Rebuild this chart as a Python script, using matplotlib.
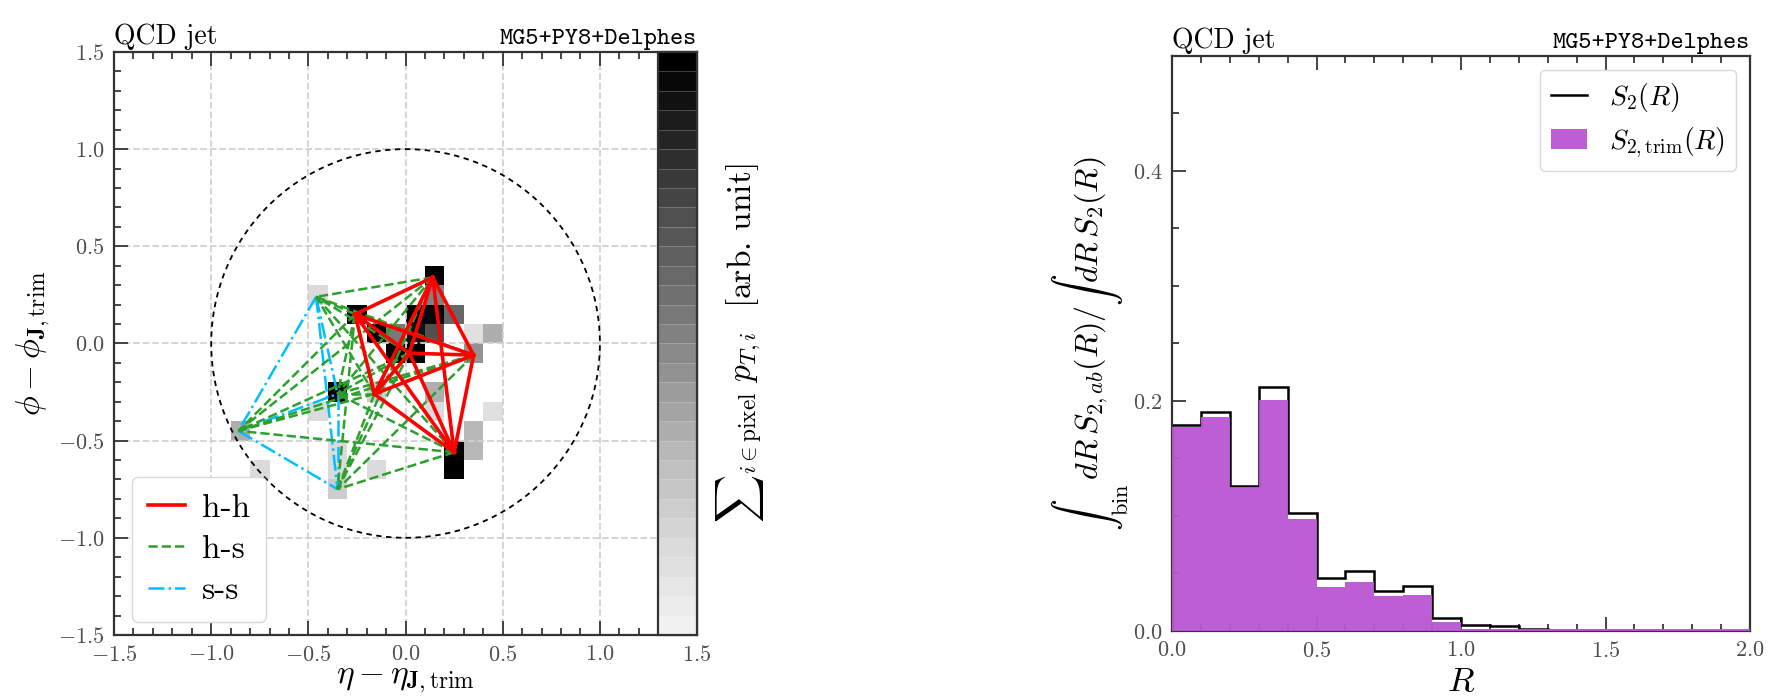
import numpy as np
import matplotlib
matplotlib.use("Agg")
import matplotlib.pyplot as plt
from matplotlib.colors import ListedColormap
from matplotlib.patches import Circle
from matplotlib.ticker import MultipleLocator

plt.rcParams['font.family'] = 'serif'
plt.rcParams['font.serif'] = ['cmr10']
plt.rcParams['font.monospace'] = ['cmtt10']
plt.rcParams['mathtext.fontset'] = 'cm'
plt.rcParams['axes.formatter.use_mathtext'] = True
plt.rcParams['axes.unicode_minus'] = True

# jet image pixels (eta, phi centres and intensity, arb. unit)
pix_eta = [0.15, 0.15, 0.05, 0.15, 0.25, 0.05, 0.15, 0.35, 0.45, 0.35,
           -0.05, 0.05, -0.15, -0.05, -0.25, -0.45, -0.35, -0.45, -0.85, -0.75,
           -0.35, -0.35, -0.35, -0.15, -0.15, 0.15, 0.15, 0.45, 0.35, 0.35,
           0.25, 0.25]
pix_phi = [0.35, 0.25, 0.15, 0.15, 0.15, 0.05, 0.05, 0.05, 0.05, -0.05,
           -0.05, -0.05, 0.05, 0.05, 0.15, 0.25, -0.25, -0.35, -0.45, -0.65,
           -0.55, -0.65, -0.75, -0.65, -0.25, -0.25, -0.35, -0.35, -0.45, -0.55,
           -0.55, -0.65]
pix_val = [1.0, 0.5, 1.0, 0.95, 0.6, 0.9, 0.7, 0.12, 0.35, 0.45,
           1.0, 1.0, 1.0, 0.55, 1.0, 0.15, 1.0, 0.15, 0.35, 0.15,
           0.15, 0.15, 0.2, 0.15, 0.2, 0.35, 0.15, 0.12, 0.3, 0.3,
           1.0, 1.0]

# hard and soft constituents after trimming
hard_eta = [0.14, -0.26, 0.35, 0.25, -0.16, 0.02]
hard_phi = [0.34, 0.15, -0.06, -0.56, -0.26, -0.05]
soft_eta = [-0.46, -0.86, -0.35, -0.35]
soft_phi = [0.24, -0.45, -0.75, -0.26]
JET_R = 1.0

# S2(R) histograms
r_edges = np.linspace(0.0, 2.0, 21)
s2 = [0.179, 0.190, 0.126, 0.212, 0.103, 0.046, 0.052, 0.035, 0.039, 0.011,
      0.005, 0.004, 0.002, 0.001, 0.001, 0.0005, 0.0005, 0.0003, 0.0003, 0.0002]
s2_trim = [0.177, 0.186, 0.125, 0.201, 0.097, 0.038, 0.043, 0.030, 0.031, 0.008,
           0.002, 0.002, 0.0015, 0.0015, 0.0015, 0.0015, 0.0015, 0.0015, 0.0015, 0.0015]

fig = plt.figure(figsize=(17.76, 7.0), dpi=100)
ax1 = fig.add_axes([0.0642, 0.0929, 0.3283, 0.8329])
ax2 = fig.add_axes([0.6599, 0.0986, 0.3255, 0.8214])


def style_axis(ax, right=True):
    ax.tick_params(which='both', direction='in', top=True, right=right,
                   labelsize=16, labelcolor='0.3', color='0.15', width=1.2)
    ax.tick_params(which='major', length=10)
    ax.tick_params(which='minor', length=5)
    ax.tick_params(axis='x', which='both', pad=7)
    ax.tick_params(axis='y', which='both', pad=7)
    for sp in ax.spines.values():
        sp.set_linewidth(1.6)
        sp.set_color('0.2')


# ---- left panel: jet image ----
cmap = ListedColormap(plt.cm.Greys(np.linspace(0.12, 1.0, 30)))
edges = np.linspace(-1.5, 1.5, 31)
h = ax1.hist2d(pix_eta, pix_phi, bins=[edges, edges], weights=pix_val,
               cmin=1e-6, cmap=cmap, vmin=0, vmax=1, zorder=0)

for i in range(len(soft_eta)):
    for j in range(i + 1, len(soft_eta)):
        ax1.plot([soft_eta[i], soft_eta[j]], [soft_phi[i], soft_phi[j]],
                 color='deepskyblue', ls='-.', lw=1.8, zorder=3,
                 label='s-s' if (i, j) == (0, 1) else None)
for i in range(len(hard_eta)):
    for j in range(len(soft_eta)):
        ax1.plot([hard_eta[i], soft_eta[j]], [hard_phi[i], soft_phi[j]],
                 color='tab:green', ls='--', lw=1.8, zorder=4,
                 label='h-s' if (i, j) == (0, 0) else None)
for i in range(len(hard_eta)):
    for j in range(i + 1, len(hard_eta)):
        ax1.plot([hard_eta[i], hard_eta[j]], [hard_phi[i], hard_phi[j]],
                 color='red', ls='-', lw=2.6, zorder=5,
                 label='h-h' if (i, j) == (0, 1) else None)

ax1.add_patch(Circle((0, 0), JET_R, fill=False, color='k', lw=1.3,
                     ls=(0, (3, 2.5)), zorder=2))

ax1.set_xlim(-1.5, 1.5)
ax1.set_ylim(-1.5, 1.5)
ax1.xaxis.set_major_locator(MultipleLocator(0.5))
ax1.xaxis.set_minor_locator(MultipleLocator(0.1))
ax1.yaxis.set_major_locator(MultipleLocator(0.5))
ax1.yaxis.set_minor_locator(MultipleLocator(0.1))
ax1.grid(True, which='major', ls='--', color='0.82', lw=1.3)
style_axis(ax1)
ax1.set_xlabel(r'$\eta - \eta_{\mathbf{J},\mathrm{trim}}$', fontsize=24, labelpad=1)
ax1.set_ylabel(r'$\phi - \phi_{\mathbf{J},\mathrm{trim}}$', fontsize=24, labelpad=4)
ax1.set_title('QCD jet', loc='left', fontsize=20)
ax1.set_title('MG5+PY8+Delphes', loc='right', fontsize=18, family='monospace')

hh, ll = ax1.get_legend_handles_labels()
order = [ll.index(k) for k in ['h-h', 'h-s', 's-s']]
ax1.legend([hh[k] for k in order], [ll[k] for k in order], loc='lower left',
           bbox_to_anchor=(0.03, 0.022), borderaxespad=0,
           fontsize=24, handlelength=1.1, handletextpad=0.5, labelspacing=0.36,
           borderpad=0.5, fancybox=True, framealpha=1, edgecolor='0.85')

cax = ax1.inset_axes([0.9333, 0.0, 0.0667, 1.0])
cbar = fig.colorbar(h[3], cax=cax)
cbar.set_ticks([])
cbar.outline.set_linewidth(1.6)
cbar.outline.set_edgecolor('0.2')
cbar.solids.set_edgecolor((1, 1, 1, 0.25))
cbar.solids.set_linewidth(0.6)
cbar.set_label(r'${\sum}_{i\in \mathrm{pixel}}\ p_{T,i}$  [arb. unit]',
               fontsize=24, labelpad=12)

# ---- right panel: S2 distributions ----
ax2.stairs(s2, r_edges, color='k', lw=1.8, label=r'$S_2(R)$', zorder=2)
ax2.stairs(s2_trim, r_edges, fill=True, color='mediumorchid', alpha=0.95,
           label=r'$S_{2,\mathrm{trim}}(R)$', zorder=3)
ax2.set_xlim(0, 2.0)
ax2.set_ylim(0, 0.5)
ax2.xaxis.set_major_locator(MultipleLocator(0.5))
ax2.xaxis.set_minor_locator(MultipleLocator(0.1))
ax2.yaxis.set_major_locator(MultipleLocator(0.2))
ax2.yaxis.set_minor_locator(MultipleLocator(0.05))
style_axis(ax2, right=False)
ax2.set_xlabel(r'$R$', fontsize=25, labelpad=4)
ax2.set_ylabel(r'${\int}_{\mathrm{bin}}\, dR\, S_{2,ab}(R) / {\int}\, dR\, S_2(R)$',
               fontsize=23, labelpad=1)
ax2.set_title('QCD jet', loc='left', fontsize=20)
ax2.set_title('MG5+PY8+Delphes', loc='right', fontsize=18, family='monospace')
ax2.legend(loc='upper right', fontsize=20, handlelength=1.3, labelspacing=0.4,
           borderaxespad=0.5, fancybox=True, framealpha=1, edgecolor='0.85')

fig.savefig('out.png', dpi=100)
